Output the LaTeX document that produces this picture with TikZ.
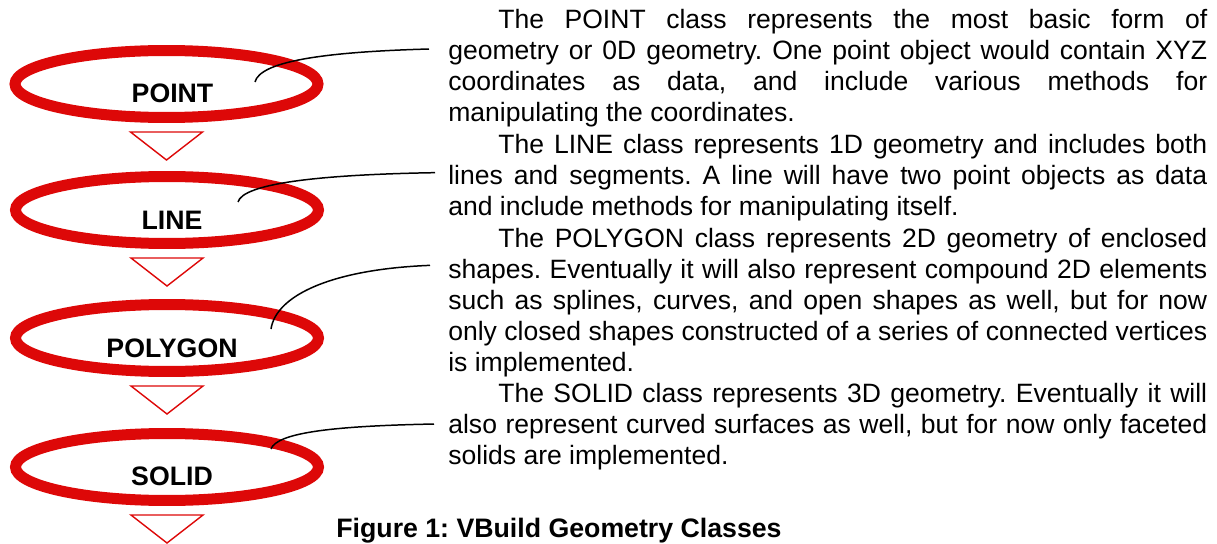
\documentclass[tikz,border=0pt]{standalone}
\usepackage{fontspec}
\setmainfont{Liberation Sans}
\usepackage{xcolor}
\usetikzlibrary{positioning,calc,shapes.geometric}
\definecolor{ovalred}{RGB}{221,8,8}
\hyphenpenalty=10000
\emergencystretch=2em
\frenchspacing
\tikzset{
  oval/.style={ellipse,draw=ovalred,line width=.22cm,minimum width=6.06cm,minimum height=1.34cm,inner sep=0pt},
  lbl/.style={font=\fontsize{15.2}{18}\selectfont\bfseries,inner sep=0pt},
  tri/.style={draw=ovalred,line width=.8pt,line join=miter},
  para/.style={text width=15.18cm,align=justify,inner sep=0pt,anchor=north west,
    font=\fontsize{15.1}{17.64}\selectfont},
  lead/.style={line width=.85pt,black},
  figcap/.style={font=\fontsize{15.2}{18}\selectfont\bfseries,inner sep=0pt,anchor=base}
}

\begin{document}
\begin{tikzpicture}[x=0.02cm,y=-0.02cm]
  \useasboundingbox (0,0) rectangle (1217,544);
  % class chain
  \node[oval] (point) at (166.5,84) {};
  \node[oval] (line) at (167,210) {};
  \node[oval] (polygon) at (167,338) {};
  \node[oval] (solid) at (167,467) {};
  \node[lbl] (pointlbl) at ($(point)+(6,9)$) {POINT};
  \node[lbl] (linelbl) at ($(line)+(5,10)$) {LINE};
  \node[lbl] (polygonlbl) at ($(polygon)+(5,10)$) {POLYGON};
  \node[lbl] (solidlbl) at ($(solid)+(5,9)$) {SOLID};
  \foreach \c in {point,line,polygon,solid}
    \draw[tri] ($(\c.center)+(-36,48)$) -- ++(72,0) -- ++(-36,28) -- cycle;

  % descriptions
  \node[para] (pointtxt) at (448,6.8) {\noindent\hspace*{1cm}\strut The POINT class represents the most basic form of\linebreak
    geometry or 0D geometry. One point object would contain XYZ\linebreak
    coordinates as data, and include various methods for\linebreak
    manipulating the coordinates.\strut};
  \node[para,below=0pt of pointtxt] (linetxt) {\noindent\hspace*{1cm}\strut The LINE class represents 1D geometry and includes both\linebreak
    lines and segments. A line will have two point objects as data\linebreak
    and include methods for manipulating itself.\strut};
  \node[para,below=0pt of linetxt] (polygontxt) {\noindent\hspace*{1cm}\strut The POLYGON class represents 2D geometry of enclosed\linebreak
    shapes. Eventually it will also represent compound 2D elements\linebreak
    such as splines, curves, and open shapes as well, but for now\linebreak
    only closed shapes constructed of a series of connected vertices\linebreak
    is implemented.\strut};
  \node[para,below=0pt of polygontxt] (solidtxt) {\noindent\hspace*{1cm}\strut The SOLID class represents 3D geometry. Eventually it will\linebreak
    also represent curved surfaces as well, but for now only faceted\linebreak
    solids are implemented.\strut};
  \node[figcap] (caption) at (559,537) {Figure 1: VBuild Geometry Classes};

  % leaders
  \coordinate (pointS) at ($(point)+(88.5,-2)$);
  \coordinate (pointE) at ($(pointtxt.north west)+(-19,42.2)$);
  \coordinate (lineS) at ($(line)+(71,-8)$);
  \coordinate (lineE) at ($(linetxt.north west)+(-13,41.2)$);
  \coordinate (polygonS) at ($(polygon)+(104,-9)$);
  \coordinate (polygonE) at ($(polygontxt.north west)+(-18,40.2)$);
  \coordinate (solidS) at ($(solid)+(104,-18)$);
  \coordinate (solidE) at ($(solidtxt.north west)+(-14,43.2)$);
  \draw[lead] (pointS) .. controls +(5,-20) and +(-109,3) .. (pointE);
  \draw[lead] (lineS) .. controls +(5,-18) and +(-120,2) .. (lineE);
  \draw[lead] (polygonS) .. controls +(5,-33) and +(-100,4) .. (polygonE);
  \draw[lead] (solidS) .. controls +(6,-16) and +(-104,2) .. (solidE);
\end{tikzpicture}
\end{document}
